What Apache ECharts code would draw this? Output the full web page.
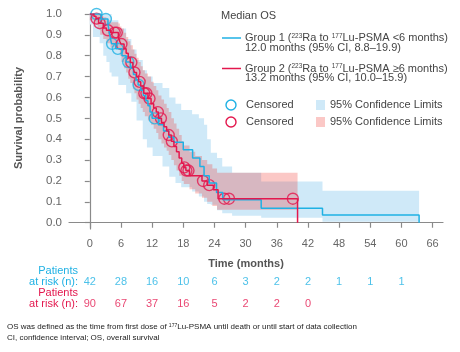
<!DOCTYPE html>
<html>
<head>
<meta charset="utf-8">
<script src="https://cdn.jsdelivr.net/npm/echarts@6/dist/echarts.min.js"></script>
<style>
  html, body { margin: 0; padding: 0; background: #fff; }
  #chart { width: 460px; height: 352px; }
</style>
</head>
<body>
<div id="chart"></div>
<script>
  // axis ticks
  var timeTicks = [0, 6, 12, 18, 24, 30, 36, 42, 48, 54, 60, 66]
  var survTicks = [0, 0.1, 0.2, 0.3, 0.4, 0.5, 0.6, 0.7, 0.8, 0.9, 1.0]

  // Kaplan-Meier steps: [month, survival from that month on]
  var group1Steps = [[0, 1], [2.2, 0.976], [3.5, 0.952], [3.8, 0.905], [4.0, 0.881], [4.2, 0.857], [5.0, 0.833],
    [6.2, 0.80], [7.0, 0.77], [7.8, 0.74], [8.4, 0.71], [8.9, 0.685], [9.3, 0.66], [9.8, 0.635], [10.3, 0.61],
    [10.8, 0.585], [11.2, 0.56], [11.6, 0.53], [12.0, 0.50], [13.2, 0.47], [14.2, 0.44], [15.2, 0.41],
    [16.2, 0.385], [18.0, 0.35], [19.8, 0.31], [21.2, 0.27], [22.0, 0.225], [23.0, 0.19], [24.4, 0.145],
    [25.6, 0.11], [33.0, 0.07], [44.8, 0.037], [63.4, 0]]
  var group2Steps = [[0, 1], [0.8, 0.989], [1.2, 0.978], [1.7, 0.956], [2.6, 0.933], [3.2, 0.922], [4.0, 0.911],
    [5.5, 0.889], [5.8, 0.867], [6.0, 0.856], [6.6, 0.834], [7.0, 0.812], [7.4, 0.79], [7.8, 0.768], [8.3, 0.745],
    [8.6, 0.72], [9.0, 0.70], [9.4, 0.675], [9.8, 0.655], [10.4, 0.62], [11.2, 0.595], [11.8, 0.57], [12.3, 0.55],
    [12.8, 0.53], [13.2, 0.50], [13.8, 0.48], [14.3, 0.46], [14.8, 0.44], [15.2, 0.42], [15.7, 0.39],
    [16.2, 0.365], [16.7, 0.34], [17.2, 0.31], [17.7, 0.285], [18.1, 0.265], [18.5, 0.25], [19.2, 0.225],
    [21.6, 0.20], [22.6, 0.18], [23.8, 0.158], [24.7, 0.115], [40.0, 0]]

  // censored times (months)
  var group1Censored = [1.3, 3.1, 4.3, 5.4, 7.4, 9.4, 12.5]
  var group2Censored = [1.3, 1.9, 3.5, 4.8, 5.2, 6.1, 8.0, 8.6, 9.6, 10.5, 10.9, 11.5, 13.1, 13.7, 15.2, 15.8,
    18.2, 18.6, 19.0, 21.8, 23.0, 25.9, 26.8, 39.1]

  // 95% confidence limits: [month, lower, upper]
  var group1CI = [[0, 0.95, 1], [0.6, 0.89, 1], [1.9, 0.86, 1], [2.6, 0.80, 1], [3.2, 0.77, 1], [3.8, 0.72, 1],
    [4.2, 0.70, 0.97], [5.5, 0.66, 0.93], [7.0, 0.62, 0.88], [8.0, 0.58, 0.83], [9.0, 0.49, 0.78],
    [10.2, 0.40, 0.73], [11.0, 0.36, 0.70], [12.1, 0.32, 0.67], [14.0, 0.27, 0.645], [15.3, 0.22, 0.60],
    [16.5, 0.19, 0.57], [17.6, 0.17, 0.54], [19.7, 0.15, 0.52], [21.0, 0.126, 0.50], [22.0, 0.10, 0.47],
    [22.6, 0.09, 0.40], [23.3, 0.086, 0.335], [24.5, 0.06, 0.31], [25.5, 0.045, 0.27], [27.4, 0.033, 0.24],
    [33.0, 0.024, 0.198], [44.8, 0.005, 0.153]]
  var group1End = 63.4
  var group2CI = [[0, 0.97, 1], [0.8, 0.95, 1], [1.5, 0.93, 1], [2.0, 0.90, 0.99], [2.6, 0.88, 0.985],
    [3.2, 0.86, 0.97], [4.0, 0.84, 0.96], [5.5, 0.83, 0.955], [5.8, 0.80, 0.94], [6.1, 0.77, 0.93],
    [6.6, 0.74, 0.91], [7.0, 0.72, 0.89], [7.4, 0.69, 0.87], [7.8, 0.67, 0.85], [8.3, 0.64, 0.83],
    [8.6, 0.62, 0.81], [9.0, 0.59, 0.79], [9.4, 0.57, 0.77], [9.8, 0.55, 0.75], [10.2, 0.53, 0.73],
    [10.6, 0.51, 0.715], [11.2, 0.49, 0.70], [11.8, 0.47, 0.675], [12.3, 0.45, 0.655], [12.8, 0.43, 0.635],
    [13.2, 0.40, 0.61], [13.8, 0.38, 0.59], [14.3, 0.36, 0.57], [14.8, 0.345, 0.55], [15.2, 0.325, 0.53],
    [15.7, 0.30, 0.50], [16.2, 0.275, 0.475], [16.7, 0.25, 0.45], [17.2, 0.225, 0.42], [17.7, 0.20, 0.39],
    [18.1, 0.185, 0.37], [19.2, 0.16, 0.34], [20.3, 0.14, 0.32], [21.6, 0.12, 0.30], [22.6, 0.10, 0.28],
    [23.6, 0.08, 0.26], [24.5, 0.062, 0.24]]
  var group2End = 40.0

  // patients at risk
  var riskTimes = [0, 6, 12, 18, 24, 30, 36, 42, 48, 54, 60]
  var group1Risk = [42, 28, 16, 10, 6, 3, 2, 2, 1, 1, 1]
  var group2Risk = [90, 67, 37, 16, 5, 2, 2, 0]

  var BLUE = '#1fb1e4'
  var RED = '#e3174d'
  var BLUE_BAND = '#cfe9f8'
  var RED_BAND = 'rgba(239,35,27,0.25)'
  var AXIS = '#8a8a8a'
  var FONT = '"Liberation Sans", Arial, sans-serif'

  function survAt (steps, t) {
    var s = steps[0][1]
    for (var i = 0; i < steps.length; i++) {
      if (steps[i][0] <= t) s = steps[i][1]
    }
    return s
  }

  function censorData (times, steps) {
    return times.map(function (t) { return [t, survAt(steps, t)] })
  }

  // whole confidence band as one polygon
  function bandSeries (ci, end, color) {
    return {
      type: 'custom',
      silent: true,
      animation: false,
      data: ci.map(function (r) { return [r[0], r[1], r[2]] }),
      encode: {x: 0, y: [1, 2]},
      renderItem: function (params, api) {
        if (params.dataIndex !== 0) return null
        var pts = []
        for (var i = 0; i < ci.length; i++) {
          var t1 = i + 1 < ci.length ? ci[i + 1][0] : end
          pts.push(api.coord([ci[i][0], ci[i][2]]), api.coord([t1, ci[i][2]]))
        }
        for (var j = ci.length - 1; j >= 0; j--) {
          var t2 = j + 1 < ci.length ? ci[j + 1][0] : end
          pts.push(api.coord([t2, ci[j][1]]), api.coord([ci[j][0], ci[j][1]]))
        }
        return {type: 'polygon', shape: {points: pts}, style: {fill: color}}
      }
    }
  }

  function riskSeries (risk, row, color) {
    return {
      type: 'scatter',
      xAxisIndex: 1,
      yAxisIndex: 1,
      symbolSize: 1,
      silent: true,
      itemStyle: {color: 'rgba(0,0,0,0)'},
      data: risk.map(function (n, i) { return [riskTimes[i], row, n] }),
      label: {
        show: true,
        position: 'inside',
        formatter: function (p) { return String(p.data[2]) },
        color: color,
        fontSize: 11,
        fontFamily: FONT
      }
    }
  }

  var chart = echarts.init(document.getElementById('chart'))
  var txt = {fontFamily: FONT, fontSize: 11, fill: '#444'}
  var sup = {fontSize: 6.5, verticalAlign: 'top', lineHeight: 11}

  chart.setOption({
    animation: false,
    backgroundColor: '#fff',
    grid: [
      {left: 69, right: 17, top: 14, bottom: 123, outerBoundsMode: 'none'},
      {left: 69, right: 17, top: 271, height: 44, outerBoundsMode: 'none'}
    ],
    xAxis: [{
      type: 'value', min: -4, max: 68,
      axisLine: {lineStyle: {color: AXIS, width: 1.2}},
      axisTick: {length: 5, lineStyle: {color: AXIS, width: 1.2}, customValues: timeTicks},
      axisLabel: {customValues: timeTicks, color: '#666', fontSize: 11, fontFamily: FONT, margin: 9},
      splitLine: {show: false}
    }, {
      gridIndex: 1, type: 'value', min: -4, max: 68, show: false
    }],
    yAxis: [{
      type: 'value', min: -0.03, max: 1,
      axisLine: {show: true, lineStyle: {color: AXIS, width: 1.2}},
      axisTick: {show: true, length: 5, lineStyle: {color: AXIS, width: 1.2}, customValues: survTicks},
      axisLabel: {customValues: survTicks, color: '#666', fontSize: 11.5, fontFamily: FONT, margin: 7,
        formatter: function (v) { return v.toFixed(1) }},
      splitLine: {show: false}
    }, {
      gridIndex: 1, type: 'category', data: ['g1', 'g2'], inverse: true, show: false
    }],
    series: [
      bandSeries(group1CI, group1End, BLUE_BAND),
      bandSeries(group2CI, group2End, RED_BAND),
      {
        type: 'line', step: 'end', data: group1Steps, showSymbol: false, silent: true,
        lineStyle: {color: BLUE, width: 1.5}
      },
      {
        type: 'line', step: 'end', data: group2Steps, showSymbol: false, silent: true,
        lineStyle: {color: RED, width: 1.5}
      },
      {
        type: 'scatter', data: censorData(group1Censored, group1Steps), symbol: 'circle', symbolSize: 11,
        silent: true, itemStyle: {color: 'rgba(0,0,0,0)', borderColor: BLUE, borderWidth: 1.4}
      },
      {
        type: 'scatter', data: censorData(group2Censored, group2Steps), symbol: 'circle', symbolSize: 11,
        silent: true, itemStyle: {color: 'rgba(0,0,0,0)', borderColor: RED, borderWidth: 1.4}
      },
      riskSeries(group1Risk, 'g1', BLUE),
      riskSeries(group2Risk, 'g2', RED)
    ],
    graphic: [
      // axis titles
      {type: 'text', x: 19, y: 118, rotation: Math.PI / 2,
        style: {text: 'Survival probability', fontFamily: FONT, fontSize: 11, fontWeight: 'bold', fill: '#555',
          align: 'center', verticalAlign: 'middle'}},
      {type: 'text', x: 246, y: 264,
        style: {text: 'Time (months)', fontFamily: FONT, fontSize: 11, fontWeight: 'bold', fill: '#555',
          align: 'center', verticalAlign: 'middle'}},
      // legend
      {type: 'text', x: 221, y: 16, style: Object.assign({text: 'Median OS', verticalAlign: 'middle'}, txt)},
      {type: 'line', shape: {x1: 222, y1: 38, x2: 241, y2: 38}, style: {stroke: BLUE, lineWidth: 1.5}},
      {type: 'text', x: 245, y: 38, style: Object.assign({
        text: 'Group 1 ({s|223}Ra to {s|177}Lu-PSMA <6 months)', verticalAlign: 'middle', rich: {s: sup}}, txt)},
      {type: 'text', x: 245, y: 47.5, style: Object.assign({
        text: '12.0 months (95% CI, 8.8\u201319.9)', verticalAlign: 'middle'}, txt)},
      {type: 'line', shape: {x1: 222, y1: 68.5, x2: 241, y2: 68.5}, style: {stroke: RED, lineWidth: 1.5}},
      {type: 'text', x: 245, y: 68.5, style: Object.assign({
        text: 'Group 2 ({s|223}Ra to {s|177}Lu-PSMA \u22656 months)', verticalAlign: 'middle', rich: {s: sup}}, txt)},
      {type: 'text', x: 245, y: 78, style: Object.assign({
        text: '13.2 months (95% CI, 10.0\u201315.9)', verticalAlign: 'middle'}, txt)},
      {type: 'circle', shape: {cx: 231, cy: 105, r: 5}, style: {fill: 'none', stroke: BLUE, lineWidth: 1.4}},
      {type: 'text', x: 246, y: 105, style: Object.assign({text: 'Censored', verticalAlign: 'middle'}, txt)},
      {type: 'rect', shape: {x: 316, y: 100, width: 9, height: 10}, style: {fill: BLUE_BAND}},
      {type: 'text', x: 330, y: 105, style: Object.assign({text: '95% Confidence Limits', verticalAlign: 'middle'}, txt)},
      {type: 'circle', shape: {cx: 231, cy: 122, r: 5}, style: {fill: 'none', stroke: RED, lineWidth: 1.4}},
      {type: 'text', x: 246, y: 122, style: Object.assign({text: 'Censored', verticalAlign: 'middle'}, txt)},
      {type: 'rect', shape: {x: 316, y: 117, width: 9, height: 10}, style: {fill: RED_BAND}},
      {type: 'text', x: 330, y: 122, style: Object.assign({text: '95% Confidence Limits', verticalAlign: 'middle'}, txt)},
      // at-risk row titles
      {type: 'text', x: 78, y: 276.5, style: {text: 'Patients\nat risk (n):', fontFamily: FONT, fontSize: 11,
        lineHeight: 11, fill: BLUE, align: 'right', verticalAlign: 'middle'}},
      {type: 'text', x: 78, y: 298.5, style: {text: 'Patients\nat risk (n):', fontFamily: FONT, fontSize: 11,
        lineHeight: 11, fill: RED, align: 'right', verticalAlign: 'middle'}},
      // footnotes
      {type: 'text', x: 7, y: 327, style: {
        text: 'OS was defined as the time from first dose of {s|177}Lu-PSMA until death or until start of data collection',
        fontFamily: FONT, fontSize: 8, fill: '#222', verticalAlign: 'middle',
        rich: {s: {fontSize: 5, verticalAlign: 'top', lineHeight: 8}}}},
      {type: 'text', x: 7, y: 338, style: {
        text: 'CI, confidence interval; OS, overall survival',
        fontFamily: FONT, fontSize: 8, fill: '#222', verticalAlign: 'middle'}}
    ]
  })
</script>
</body>
</html>
